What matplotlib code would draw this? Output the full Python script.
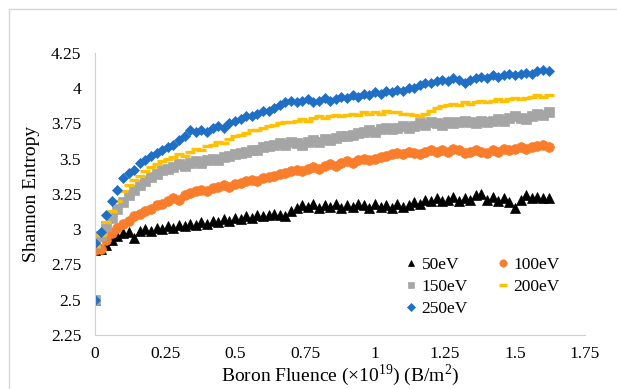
import numpy as np
import matplotlib
matplotlib.use("Agg")
import matplotlib.pyplot as plt
from matplotlib.patches import Rectangle

# Shannon entropy vs boron fluence, sampled every 0.02 (x1e19 B/m2)
step = 0.02
start_x = 0.0
start_y = 2.5

e50 = [2.85, 2.86, 2.89, 2.92, 2.95, 2.97, 2.98, 2.94, 2.99, 3.00,
       2.99, 3.01, 3.00, 3.02, 3.01, 3.03, 3.02, 3.04, 3.03, 3.05,
       3.04, 3.06, 3.05, 3.07, 3.06, 3.08, 3.07, 3.09, 3.08, 3.10,
       3.09, 3.10, 3.11, 3.10, 3.09, 3.13, 3.15, 3.17, 3.16, 3.18,
       3.15, 3.17, 3.16, 3.18, 3.15, 3.17, 3.16, 3.18, 3.17, 3.15,
       3.18, 3.16, 3.17, 3.15, 3.18, 3.16, 3.17, 3.19, 3.18, 3.21,
       3.20, 3.22, 3.20, 3.21, 3.23, 3.20, 3.22, 3.21, 3.24, 3.25,
       3.21, 3.23, 3.20, 3.22, 3.19, 3.15, 3.21, 3.24, 3.22, 3.23,
       3.22, 3.22]
e100 = [2.85, 2.86, 2.92, 2.97, 3.01, 3.04, 3.06, 3.09, 3.11, 3.13,
        3.14, 3.17, 3.18, 3.20, 3.22, 3.21, 3.24, 3.26, 3.27, 3.28,
        3.27, 3.29, 3.30, 3.31, 3.30, 3.32, 3.33, 3.34, 3.35, 3.34,
        3.36, 3.37, 3.38, 3.39, 3.40, 3.41, 3.42, 3.41, 3.43, 3.44,
        3.43, 3.45, 3.46, 3.45, 3.47, 3.48, 3.47, 3.49, 3.50, 3.49,
        3.50, 3.51, 3.52, 3.53, 3.54, 3.53, 3.55, 3.54, 3.53, 3.55,
        3.56, 3.55, 3.56, 3.55, 3.57, 3.56, 3.54, 3.55, 3.56, 3.55,
        3.54, 3.56, 3.55, 3.57, 3.56, 3.57, 3.58, 3.57, 3.58, 3.59,
        3.60, 3.58]
e150 = [2.90, 2.95, 3.02, 3.08, 3.14, 3.19, 3.24, 3.28, 3.31, 3.34,
        3.37, 3.39, 3.42, 3.43, 3.44, 3.46, 3.45, 3.47, 3.48, 3.47,
        3.49, 3.50, 3.49, 3.51, 3.52, 3.53, 3.54, 3.55, 3.56, 3.56,
        3.58, 3.59, 3.60, 3.61, 3.60, 3.62, 3.61, 3.60, 3.62, 3.63,
        3.62, 3.64, 3.63, 3.65, 3.66, 3.66, 3.67, 3.68, 3.69, 3.70,
        3.69, 3.71, 3.72, 3.71, 3.72, 3.73, 3.72, 3.73, 3.75, 3.74,
        3.76, 3.75, 3.74, 3.76, 3.75, 3.76, 3.77, 3.76, 3.75, 3.77,
        3.76, 3.77, 3.78, 3.77, 3.79, 3.80, 3.79, 3.78, 3.80, 3.82,
        3.81, 3.83]
e200 = [2.88, 2.96, 3.05, 3.13, 3.20, 3.27, 3.31, 3.35, 3.38, 3.41,
        3.44, 3.46, 3.48, 3.50, 3.51, 3.53, 3.52, 3.55, 3.57, 3.56,
        3.59, 3.60, 3.62, 3.61, 3.64, 3.66, 3.67, 3.68, 3.70, 3.70,
        3.72, 3.73, 3.74, 3.75, 3.76, 3.76, 3.77, 3.78, 3.77, 3.79,
        3.80, 3.79, 3.80, 3.81, 3.80, 3.81, 3.82, 3.81, 3.83, 3.82,
        3.83, 3.82, 3.84, 3.83, 3.83, 3.82, 3.82, 3.81, 3.80, 3.82,
        3.84, 3.86, 3.87, 3.88, 3.89, 3.88, 3.90, 3.89, 3.90, 3.91,
        3.90, 3.91, 3.92, 3.91, 3.92, 3.93, 3.92, 3.93, 3.94, 3.95,
        3.94, 3.95]
e250 = [2.90, 2.98, 3.10, 3.20, 3.28, 3.36, 3.40, 3.42, 3.47, 3.49,
        3.52, 3.54, 3.56, 3.58, 3.60, 3.63, 3.66, 3.70, 3.69, 3.70,
        3.69, 3.72, 3.73, 3.72, 3.75, 3.77, 3.78, 3.80, 3.80, 3.82,
        3.84, 3.84, 3.86, 3.88, 3.90, 3.91, 3.90, 3.91, 3.92, 3.90,
        3.91, 3.93, 3.91, 3.92, 3.94, 3.93, 3.95, 3.94, 3.96, 3.95,
        3.97, 3.96, 3.98, 3.97, 3.99, 3.98, 4.00, 4.00, 4.02, 4.04,
        4.04, 4.05, 4.06, 4.05, 4.07, 4.06, 4.04, 4.06, 4.07, 4.08,
        4.07, 4.09, 4.08, 4.09, 4.10, 4.09, 4.10, 4.11, 4.10, 4.12,
        4.13, 4.12]

labels = ["50eV", "100eV", "150eV", "200eV", "250eV"]
xticks = [0, 0.25, 0.5, 0.75, 1, 1.25, 1.5, 1.75]
xtick_labels = ["0", "0.25", "0.5", "0.75", "1", "1.25", "1.5", "1.75"]
yticks = [2.25, 2.5, 2.75, 3, 3.25, 3.5, 3.75, 4, 4.25]
ytick_labels = ["2.25", "2.5", "2.75", "3", "3.25", "3.5", "3.75", "4", "4.25"]

styles = [
    dict(marker="^", color="black", ms=6.5),
    dict(marker="o", color="#f97d2a", ms=7),
    dict(marker="s", color="#a5a5a5", ms=6.5),
    dict(marker="_", color="#ffc000", ms=7, mew=2.4),
    dict(marker="D", color="#1f6fc6", ms=5.3),
]

plt.rcParams["font.family"] = ["Liberation Serif", "DejaVu Serif"]
plt.rcParams["mathtext.fontset"] = "custom"
plt.rcParams["mathtext.rm"] = "Liberation Serif"

fig = plt.figure(figsize=(6.17, 3.89), dpi=100)
ax = fig.add_axes([0.154, 0.139, 0.794, 0.725])

handles = []
for vals, lab, st in zip([e50, e100, e150, e200, e250], labels, styles):
    y = np.array([start_y] + vals)
    x = np.concatenate([[start_x], np.arange(len(vals)) * step])
    h, = ax.plot(x, y, linestyle="none", marker=st["marker"], color=st["color"],
                 markersize=st["ms"], markeredgewidth=st.get("mew", 0.5),
                 label=lab)
    handles.append(h)

ax.set_xlim(0, 1.75)
ax.set_ylim(2.25, 4.25)
ax.set_xticks(xticks)
ax.set_xticklabels(xtick_labels)
ax.set_yticks(yticks)
ax.set_yticklabels(ytick_labels)
ax.tick_params(length=0, labelsize=12.5, pad=10)
ax.tick_params(axis="x", pad=8)
for s in ["top", "right"]:
    ax.spines[s].set_visible(False)
for s in ["left", "bottom"]:
    ax.spines[s].set_color("#d0d0d0")

ax.set_xlabel("Boron Fluence (\u00d710$^{\\mathrm{19}}$) (B/m$^{\\mathrm{2}}$)",
              fontsize=14, labelpad=0)
ax.set_ylabel("Shannon Entropy", fontsize=14, labelpad=8)

order = [0, 2, 4, 1, 3]
ax.legend([handles[i] for i in order], [labels[i] for i in order],
          ncol=2, loc="upper left", bbox_to_anchor=(0.615, 0.315),
          frameon=False, fontsize=12.5, handlelength=0.5, handletextpad=0.35,
          columnspacing=1.8, labelspacing=0.35, markerscale=0.75,
          borderaxespad=0.2)

fig.patches.append(Rectangle((9 / 617, -0.2), 1.2, 1.2 - 9 / 389,
                             transform=fig.transFigure, fill=False,
                             edgecolor="#d6d6d6", linewidth=1.0))

fig.savefig("out.png", dpi=100)
